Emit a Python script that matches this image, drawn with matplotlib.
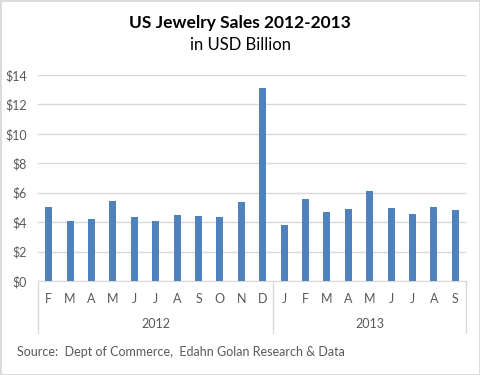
import numpy as np
import matplotlib
matplotlib.use('Agg')
import matplotlib.pyplot as plt
import matplotlib.transforms as mtransforms
from matplotlib.patches import Rectangle

months = ['F', 'M', 'A', 'M', 'J', 'J', 'A', 'S', 'O', 'N', 'D',
          'J', 'F', 'M', 'A', 'M', 'J', 'J', 'A', 'S']
years = ['2012', '2013']
year_counts = [11, 9]
sales = [5.05, 4.08, 4.21, 5.44, 4.37, 4.08, 4.49, 4.44, 4.35, 5.37, 13.12,
         3.81, 5.57, 4.69, 4.89, 6.12, 4.96, 4.55, 5.03, 4.83]
yticks = [0, 2, 4, 6, 8, 10, 12, 14]

plt.rcParams['font.family'] = ['Lato', 'DejaVu Sans']
text_col = '#595959'
grid_col = '#d9d9d9'

fig = plt.figure(figsize=(4.8, 3.75), dpi=100)
ax = fig.add_axes([38/480, 1 - 281/375, 428/480, 206/375])

x = np.arange(len(sales))
ax.bar(x, sales, width=0.33, color='#4f81bd', zorder=3)
ax.set_xlim(-0.5, len(sales) - 0.5)
ax.set_ylim(0, 14)
ax.set_yticks(yticks)
ax.set_yticklabels(['$%d' % v for v in yticks], color=text_col, fontsize=9)
ax.yaxis.grid(True, color=grid_col, lw=1, zorder=0)
ax.tick_params(axis='y', length=0, pad=8)
ax.set_xticks([])
for s in ['top', 'right', 'left']:
    ax.spines[s].set_visible(False)
ax.spines['bottom'].set_color(grid_col)

# two-level category axis: months, then years with separators
trans = mtransforms.blended_transform_factory(ax.transData, ax.transAxes)
for i, m in enumerate(months):
    ax.text(i, -0.087, m, transform=trans, ha='center', va='center',
            fontsize=9, color=text_col)
edges = np.concatenate([[0], np.cumsum(year_counts)]) - 0.5
for e in edges:
    ax.plot([e, e], [0, -0.252], transform=trans, color=grid_col, lw=1, clip_on=False)
for k, yr in enumerate(years):
    mid = (edges[k] + edges[k + 1]) / 2
    ax.text(mid, -0.209, yr, transform=trans, ha='center', va='center',
            fontsize=9, color=text_col)

fig.text(0.5, 1 - 23/375, 'US Jewelry Sales 2012-2013', ha='center', va='center',
         fontsize=12.5, fontweight='bold', color='black')
fig.text(0.5, 1 - 45/375, 'in USD Billion', ha='center', va='center',
         fontsize=12, color='black')
fig.text(17/480, 1 - 352/375, 'Source:  Dept of Commerce,  Edahn Golan Research & Data',
         ha='left', va='center', fontsize=9, color=text_col)

fig.patches.append(Rectangle((0, 0), 1, 1, transform=fig.transFigure, fill=False,
                             edgecolor=grid_col, lw=2))

fig.savefig('out.png', dpi=100)
